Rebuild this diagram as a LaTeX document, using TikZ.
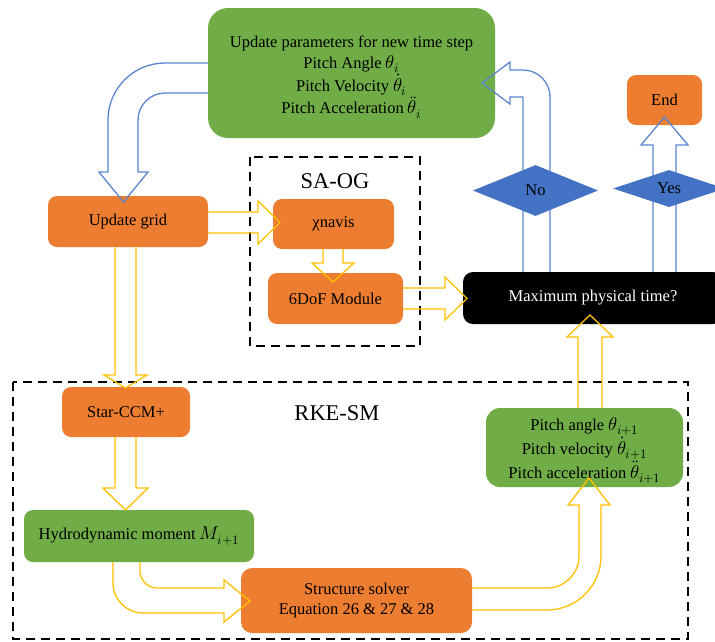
\documentclass[tikz,border=0pt]{standalone}
\usepackage{fontspec}
\usepackage{unicode-math}
\setmainfont{Liberation Serif}
\setmathfont{Latin Modern Math}[Scale=1.12]
\usetikzlibrary{shapes.geometric}
\definecolor{orangeC}{HTML}{ED7D31}
\definecolor{greenC}{HTML}{70AD47}
\definecolor{blueC}{HTML}{4472C4}
\definecolor{lblueC}{HTML}{5B86CF}
\definecolor{yellowC}{HTML}{FFC000}
\begin{document}
\begin{tikzpicture}[x=1pt,y=-1pt,
  box/.style={rounded corners=9pt, inner sep=0pt, align=center, font=\fontsize{16.5}{20.7}\selectfont},
  obx/.style={box, fill=orangeC},
  gbx/.style={box, fill=greenC},
  dframe/.style={draw=black, line width=2.3pt, dash pattern=on 9pt off 6pt},
  biglabel/.style={font=\fontsize{22.5}{26}\selectfont, inner sep=0pt},
  yarrow/.style={draw=yellowC, line width=1.3pt, line join=miter},
  barrow/.style={draw=lblueC, line width=1.3pt, line join=miter},
  dia/.style={diamond, fill=blueC, inner sep=0pt, font=\fontsize{16.5}{20}\selectfont}
]
\useasboundingbox (0,0) rectangle (715,641);
\clip (0,0) rectangle (715,641);

% dashed group frames
\draw[dframe] (250,157) rectangle (420,346);
\node[biglabel] (saogl) at (335,181) {SA-OG};
\draw[dframe] (13,382) rectangle (688,639);
\node[biglabel] (rkel) at (337,413) {RKE-SM};

% boxes
\node[gbx, rounded corners=20pt, minimum width=287pt, minimum height=130pt] (top) at (351.5,73)
  {\rule{0pt}{20pt}Update parameters for new time step\\ Pitch Angle $\theta_i$\\ Pitch Velocity $\dot\theta_i$\\ Pitch Acceleration $\ddot\theta_i$};
\node[obx, minimum width=160pt, minimum height=51pt] (ug) at (128,221.5) {Update grid};
\node[obx, minimum width=121pt, minimum height=50pt] (chi) at (333.5,224) {χnavis};
\node[obx, minimum width=135pt, minimum height=51pt] (dof) at (335.5,298.5) {6DoF Module};
\node[box, fill=black, text=white, rounded corners=10pt, minimum width=260pt, minimum height=52pt] (maxt) at (593,298) {Maximum physical time?};
\node[obx, minimum width=75pt, minimum height=50pt] (end) at (664.5,100) {End};
\node[obx, minimum width=128pt, minimum height=50pt] (star) at (126,412) {Star-CCM+};
\node[gbx, minimum width=230pt, minimum height=52pt] (hyd) at (139,536) {Hydrodynamic moment $M_{i+1}$};
\node[obx, rounded corners=11pt, minimum width=231pt, minimum height=65pt] (ss) at (356.5,600.5) {Structure solver\\ Equation 26 \& 27 \& 28};
\node[gbx, rounded corners=14pt, minimum width=197pt, minimum height=79pt] (pitch) at (584.5,447.5)
  {\rule{0pt}{19pt}Pitch angle $\theta_{i+1}$\\ Pitch velocity $\dot\theta_{i+1}$\\ Pitch acceleration $\ddot\theta_{i+1}$};

% blue curved arrow: top -> update grid
\draw[barrow] (208,63) -- (165,63) .. controls (133.5,63) and (108,88.5) .. (108,120) -- (108,172)
  -- (99,172) -- (123.5,202) -- (148,172) -- (138,172) -- (138,120)
  .. controls (138,105.1) and (150.1,93) .. (165,93) -- (208,93);
% blue arrow: max -> top (No)
\draw[barrow] (523,272) -- (523,97) -- (510,97) -- (510,104) -- (482,83) -- (510,62) -- (510,70) -- (523,70)
  .. controls (537.9,70) and (550,82.1) .. (550,97) -- (550,272);
% blue arrow: max -> end (Yes)
\draw[barrow] (653,272) -- (653,145) -- (641,145) -- (664.5,117) -- (688,145) -- (676,145) -- (676,272);

% yellow arrows
\draw[yarrow] (208,212) -- (258,212) -- (258,201) -- (280,222.5) -- (258,244) -- (258,233) -- (208,233);
\draw[yarrow] (323,249) -- (323,263) -- (312,263) -- (333,282) -- (354,263) -- (343,263) -- (343,249);
\draw[yarrow] (403,288) -- (445,288) -- (445,277) -- (467,298.5) -- (445,320) -- (445,309) -- (403,309);
\draw[yarrow] (115,247) -- (115,375) -- (104,375) -- (125.5,388) -- (147,375) -- (136,375) -- (136,247);
\draw[yarrow] (115,437) -- (115,488) -- (103,488) -- (125.5,510) -- (148,488) -- (136,488) -- (136,437);
\draw[yarrow] (578,408) -- (578,337) -- (567,337) -- (590,315) -- (613,337) -- (602,337) -- (602,408);
% yellow curved: hyd -> ss
\draw[yarrow] (113,562) -- (113,583) .. controls (113,599.6) and (126.4,613) .. (143,613) -- (224,613)
  -- (224,622) -- (250,601) -- (224,580) -- (224,588) -- (157,588)
  .. controls (147.6,588) and (140,580.4) .. (140,571) -- (140,562);
% yellow curved: ss -> pitch
\draw[yarrow] (472,588) -- (547,588) .. controls (564.7,588) and (579,573.7) .. (579,556) -- (579,505)
  -- (568,505) -- (589,478) -- (610,505) -- (601,505) -- (601,556)
  .. controls (601,585.8) and (576.8,610) .. (547,610) -- (472,610);

% decision diamonds
\node[dia, minimum width=125pt, minimum height=51pt] (no) at (535.5,190.5) {No};
\node[dia, minimum width=112pt, minimum height=37pt] (yes) at (669,188.5) {Yes};
\end{tikzpicture}
\end{document}
